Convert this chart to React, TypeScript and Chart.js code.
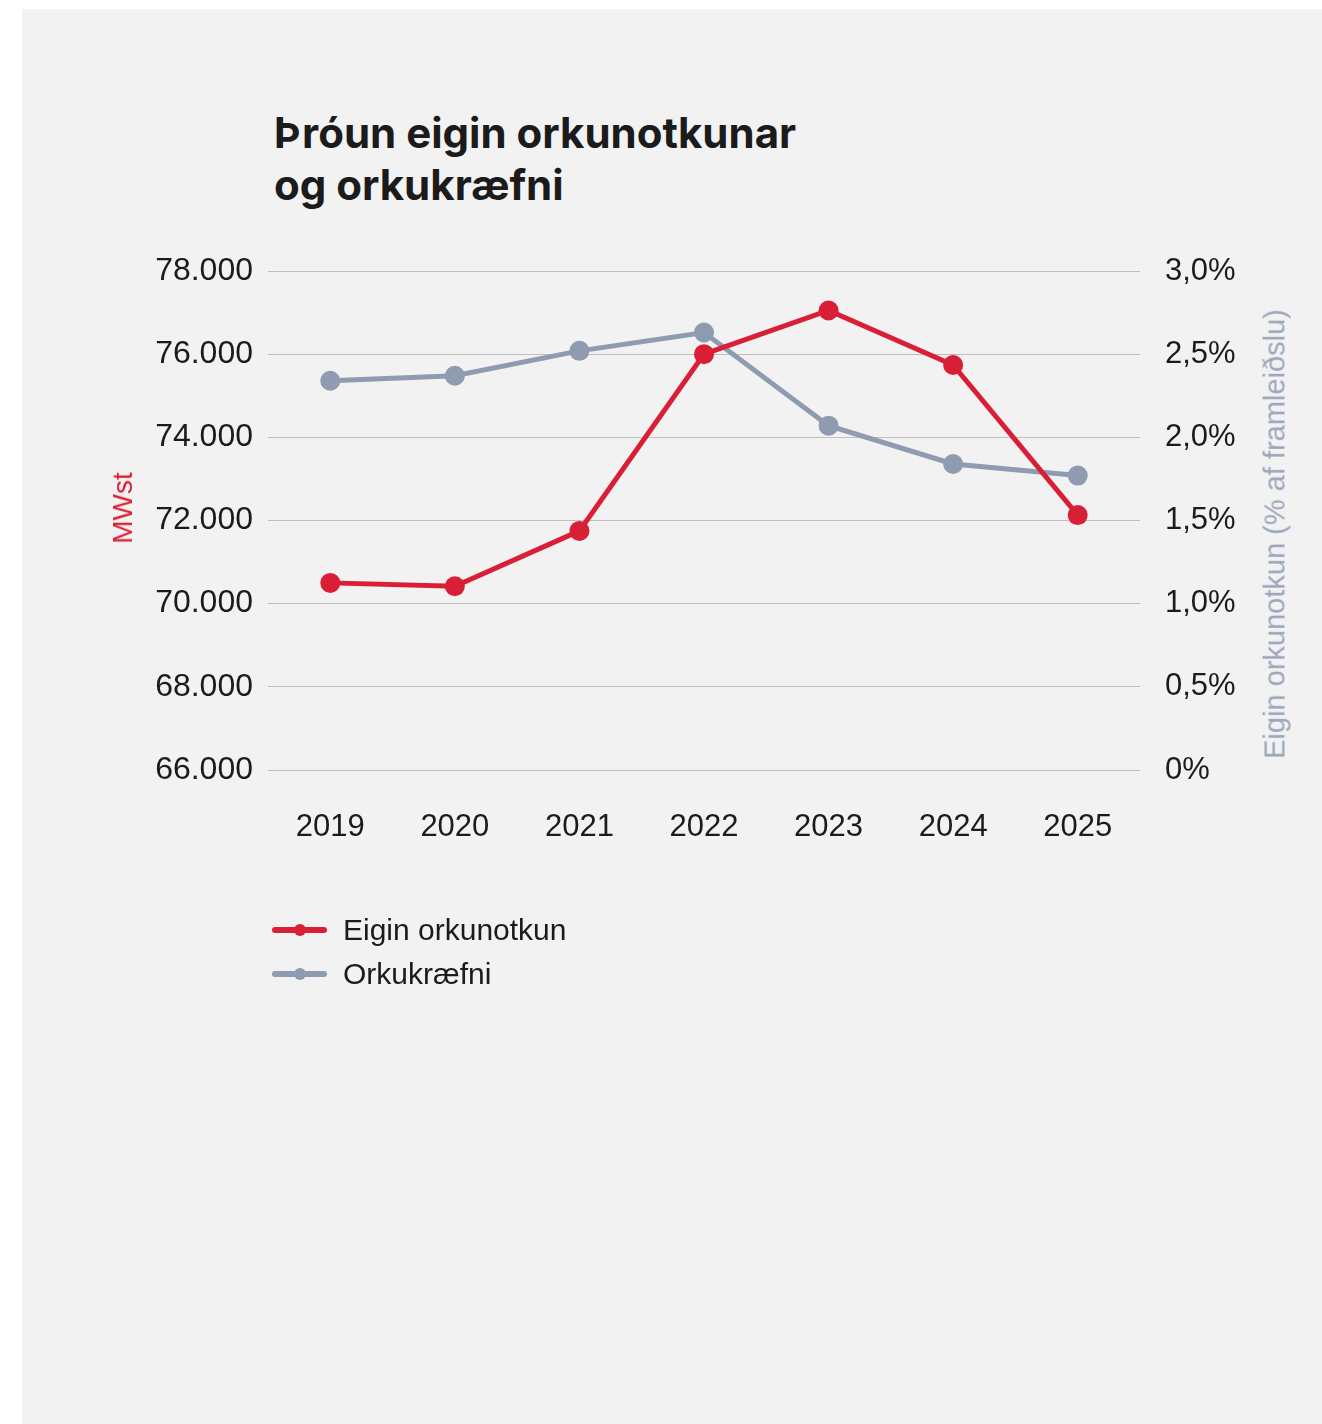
import React, { useEffect, useRef } from "react";
import { Chart, registerables } from "chart.js";

Chart.register(...registerables);

const years = ["2019", "2020", "2021", "2022", "2023", "2024", "2025"];
const energyMWh = [70500, 70420, 71750, 76000, 77050, 75740, 72130];
const intensityPct = [2.34, 2.37, 2.52, 2.63, 2.07, 1.84, 1.77];
const seriesNames = ["Eigin orkunotkun", "Orkukræfni"];
const titleLines = ["Þróun eigin orkunotkunar", "og orkukræfni"];
const leftAxisTitle = "MWst";
const rightAxisTitle = "Eigin orkunotkun (% af framleiðslu)";

const RED = "#d91f36";
const GREY = "#8e9bb0";
const TEXT = "#1b1b1b";
const TICK_FONT = "'Liberation Sans', Arial, sans-serif";

export default function App() {
  const ref = useRef<HTMLCanvasElement | null>(null);

  useEffect(() => {
    if (!ref.current) return;
    const chart = new Chart(ref.current, {
      type: "line",
      data: {
        labels: years,
        datasets: [
          {
            label: seriesNames[0],
            data: energyMWh,
            yAxisID: "y",
            borderColor: RED,
            backgroundColor: RED,
            borderWidth: 5,
            pointRadius: 10,
            pointHoverRadius: 10,
            pointBackgroundColor: RED,
            pointBorderWidth: 0,
            tension: 0,
          },
          {
            label: seriesNames[1],
            data: intensityPct,
            yAxisID: "y1",
            borderColor: GREY,
            backgroundColor: GREY,
            borderWidth: 5,
            pointRadius: 10,
            pointHoverRadius: 10,
            pointBackgroundColor: GREY,
            pointBorderWidth: 0,
            tension: 0,
          },
        ],
      },
      options: {
        responsive: false,
        animation: false,
        devicePixelRatio: 1,
        layout: { padding: { top: 262, left: 0, right: 0, bottom: 0 } },
        plugins: {
          legend: { display: false },
          title: { display: false },
          tooltip: { enabled: false },
        },
        scales: {
          x: {
            type: "category",
            offset: true,
            grid: { display: false, drawTicks: false },
            border: { display: false },
            ticks: {
              color: TEXT,
              padding: 39,
              font: { family: TICK_FONT, size: 31 },
              maxRotation: 0,
            },
            afterFit: (s: any) => {
              s.height = 139;
            },
          },
          y: {
            type: "linear",
            position: "left",
            min: 66000,
            max: 78000,
            grid: { color: "#bfbfbf", lineWidth: 1, drawTicks: false },
            border: { display: false },
            ticks: {
              stepSize: 2000,
              color: TEXT,
              padding: 15,
              font: { family: TICK_FONT, size: 32 },
              callback: (v: any) =>
                Number(v).toLocaleString("en-US").replace(/,/g, "."),
            },
            afterFit: (s: any) => {
              s.width = 246;
            },
          },
          y1: {
            type: "linear",
            position: "right",
            min: 0,
            max: 3,
            grid: { drawOnChartArea: false, drawTicks: false },
            border: { display: false },
            ticks: {
              stepSize: 0.5,
              color: TEXT,
              padding: 25,
              font: { family: TICK_FONT, size: 31 },
              callback: (v: any) =>
                Number(v) === 0 ? "0%" : Number(v).toFixed(1).replace(".", ",") + "%",
            },
            afterFit: (s: any) => {
              s.width = 182;
            },
          },
        },
      },
    });
    return () => chart.destroy();
  }, []);

  const legendItems = [
    { name: seriesNames[0], color: RED },
    { name: seriesNames[1], color: GREY },
  ];

  return (
    <div
      style={{
        position: "absolute",
        left: 22,
        top: 9,
        width: 1300,
        height: 1415,
        background: "#f2f2f2",
        overflow: "hidden",
      }}
    >
      <div
        style={{
          position: "absolute",
          left: 252,
          top: 98,
          fontFamily: "Inter, 'Liberation Sans', sans-serif",
          fontWeight: 700,
          fontSize: 42,
          lineHeight: "52px",
          color: TEXT,
          letterSpacing: "0px",
          whiteSpace: "nowrap",
        }}
      >
        {titleLines.map((t) => (
          <div key={t}>{t}</div>
        ))}
      </div>
      <canvas
        ref={ref}
        width={1300}
        height={900}
        style={{ position: "absolute", left: 0, top: 0, width: 1300, height: 900 }}
      />
      <div
        style={{
          position: "absolute",
          left: 101,
          top: 499,
          transform: "translate(-50%, -50%) rotate(-90deg)",
          whiteSpace: "nowrap",
          fontFamily: TICK_FONT,
          fontSize: 28,
          color: RED,
        }}
      >
        {leftAxisTitle}
      </div>
      <div
        style={{
          position: "absolute",
          left: 1253,
          top: 525,
          transform: "translate(-50%, -50%) rotate(-90deg)",
          whiteSpace: "nowrap",
          fontFamily: TICK_FONT,
          fontSize: 29,
          color: "#9aa6b9",
        }}
      >
        {rightAxisTitle}
      </div>
      <div style={{ position: "absolute", left: 250, top: 899 }}>
        {legendItems.map((it) => (
          <div
            key={it.name}
            style={{ display: "flex", alignItems: "center", height: 44 }}
          >
            <div style={{ position: "relative", width: 55, height: 12 }}>
              <div
                style={{
                  position: "absolute",
                  left: 0,
                  right: 0,
                  top: 3,
                  height: 6,
                  borderRadius: 3,
                  background: it.color,
                }}
              />
              <div
                style={{
                  position: "absolute",
                  left: 21.5,
                  top: 0,
                  width: 12,
                  height: 12,
                  borderRadius: 6,
                  background: it.color,
                }}
              />
            </div>
            <span
              style={{
                marginLeft: 16,
                fontFamily: TICK_FONT,
                fontSize: 30,
                color: TEXT,
                whiteSpace: "nowrap",
              }}
            >
              {it.name}
            </span>
          </div>
        ))}
      </div>
    </div>
  );
}
